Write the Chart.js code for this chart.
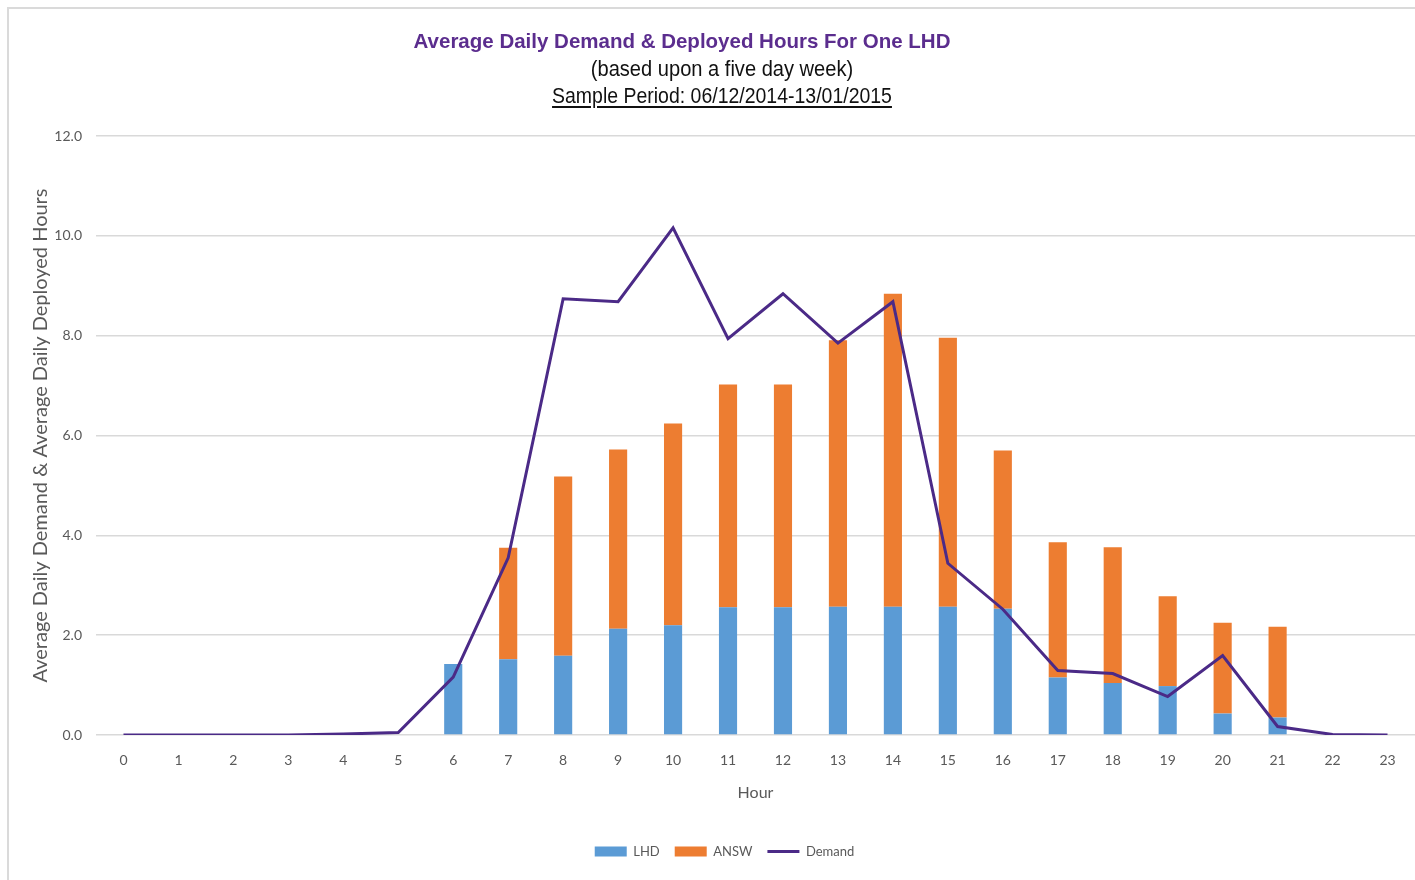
<!DOCTYPE html>
<html>
<head>
<meta charset="utf-8">
<title>Average Daily Demand &amp; Deployed Hours For One LHD</title>
<script src="https://cdn.jsdelivr.net/npm/chart.js@4.4.1/dist/chart.umd.min.js"></script>
<style>
  html, body { margin: 0; padding: 0; background: #fff; }
  #wrap { position: relative; width: 1415px; height: 880px; overflow: hidden; background: #fff; }
  #frame { position: absolute; left: 7px; top: 7px; width: 1420px; height: 885px;
           border-left: 2px solid #dadada; border-top: 2px solid #dadada; }
  canvas { position: absolute; left: 0; top: 0; }
  .t { position: absolute; white-space: nowrap; line-height: 24px; transform-origin: 50% 50%; }
  #t1 { left: 682px; top: 29px; transform: translateX(-50%); font-weight: bold; font-size: 20.5px;
        font-family: "Liberation Sans", Arial, sans-serif; color: #5b2d8e; }
  #t2 { left: 722px; top: 57px; transform: translateX(-50%) scaleX(0.913); font-size: 22px;
        font-family: "Liberation Sans", Arial, sans-serif; color: #111; }
  #t3 { left: 722px; top: 84px; transform: translateX(-50%) scaleX(0.885); font-size: 22px;
        font-family: "Liberation Sans", Arial, sans-serif; color: #111;
        text-decoration: underline; text-underline-offset: 3px; }
</style>
</head>
<body>
<div id="wrap">
  <div id="frame"></div>
  <canvas id="chart" width="1415" height="880"></canvas>
  <div class="t" id="t1">Average Daily Demand &amp; Deployed Hours For One LHD</div>
  <div class="t" id="t2">(based upon a five day week)</div>
  <div class="t" id="t3">Sample Period: 06/12/2014-13/01/2015</div>
</div>
<script>
// Hour of day (x categories)
const hours = ['0','1','2','3','4','5','6','7','8','9','10','11','12','13','14','15','16','17','18','19','20','21','22','23'];

// Average daily deployed hours, LHD crews
const lhdHours = [0, 0, 0, 0, 0, 0, 1.42, 1.52, 1.59, 2.13, 2.20, 2.56, 2.56, 2.57, 2.57, 2.57, 2.53, 1.15, 1.04, 0.98, 0.43, 0.35, 0, 0];

// Average daily deployed hours, ANSW crews (stacked on LHD)
const answHours = [0, 0, 0, 0, 0, 0, 0, 2.23, 3.59, 3.59, 4.04, 4.46, 4.46, 5.34, 6.27, 5.39, 3.17, 2.71, 2.72, 1.80, 1.82, 1.82, 0, 0];

// Average daily demand
const demand = [0, 0, 0, 0, 0.02, 0.05, 1.16, 3.55, 8.74, 8.68, 10.16, 7.94, 8.84, 7.85, 8.68, 3.44, 2.52, 1.29, 1.23, 0.77, 1.59, 0.17, 0.01, 0];

// Value axis range
const yMin = 0, yMax = 12, yStep = 2;

const COLORS = { lhd: '#5b9bd5', answ: '#ed7d31', demand: '#4b2a87', grid: '#d9d9d9', text: '#595959' };
const FAMILY = 'Lato, "Open Sans", sans-serif';
const tickFont = { family: FAMILY, size: 14 };

new Chart(document.getElementById('chart'), {
  data: {
    labels: hours,
    datasets: [
      { type: 'line', label: 'Demand', data: demand, stack: 'demand', order: 0,
        borderColor: COLORS.demand, backgroundColor: COLORS.demand, borderWidth: 3,
        pointRadius: 0, pointHoverRadius: 0, tension: 0, fill: false },
      { type: 'bar', label: 'LHD', data: lhdHours, stack: 'hours', order: 1,
        backgroundColor: COLORS.lhd, barPercentage: 0.33, categoryPercentage: 1 },
      { type: 'bar', label: 'ANSW', data: answHours, stack: 'hours', order: 2,
        backgroundColor: COLORS.answ, barPercentage: 0.33, categoryPercentage: 1 }
    ]
  },
  options: {
    responsive: false,
    animation: false,
    layout: { padding: { top: 136, left: 34, right: 0, bottom: 12 } },
    scales: {
      x: {
        stacked: true,
        grid: { display: false },
        border: { display: false },
        ticks: { color: COLORS.text, font: tickFont, padding: 9, maxRotation: 0 },
        title: { display: true, text: 'Hour', color: COLORS.text,
                 font: { family: FAMILY, size: 16 }, padding: { top: 6, bottom: 28 } },
        afterFit: (scale) => { scale.height = 95; }
      },
      y: {
        stacked: true,
        min: yMin, max: yMax,
        grid: { color: COLORS.grid, lineWidth: 1.5, drawTicks: false },
        border: { display: false },
        ticks: { stepSize: yStep, color: COLORS.text, font: tickFont, padding: 14,
                 callback: (v) => Number(v).toFixed(1) },
        title: { display: true, text: 'Average Daily Demand & Average Daily Deployed Hours', color: COLORS.text,
                 font: { family: FAMILY, size: 20 }, padding: { top: -5, bottom: 4 } },
        afterFit: (scale) => { scale.width = 62; }
      }
    },
    plugins: {
      title: { display: false },
      tooltip: { enabled: false },
      legend: {
        position: 'bottom',
        labels: {
          color: COLORS.text,
          font: { family: FAMILY, size: 13 },
          usePointStyle: true,
          pointStyleWidth: 32,
          boxHeight: 10,
          padding: 15,
          sort: (a, b) => ['LHD', 'ANSW', 'Demand'].indexOf(a.text) - ['LHD', 'ANSW', 'Demand'].indexOf(b.text),
          generateLabels: (chart) => Chart.defaults.plugins.legend.labels.generateLabels(chart).map((item) => {
            const isLine = item.text === 'Demand';
            return Object.assign(item, {
              pointStyle: isLine ? 'line' : 'rect',
              lineWidth: isLine ? 3 : 0,
              strokeStyle: isLine ? COLORS.demand : item.fillStyle
            });
          })
        }
      }
    }
  }
});
</script>
</body>
</html>
